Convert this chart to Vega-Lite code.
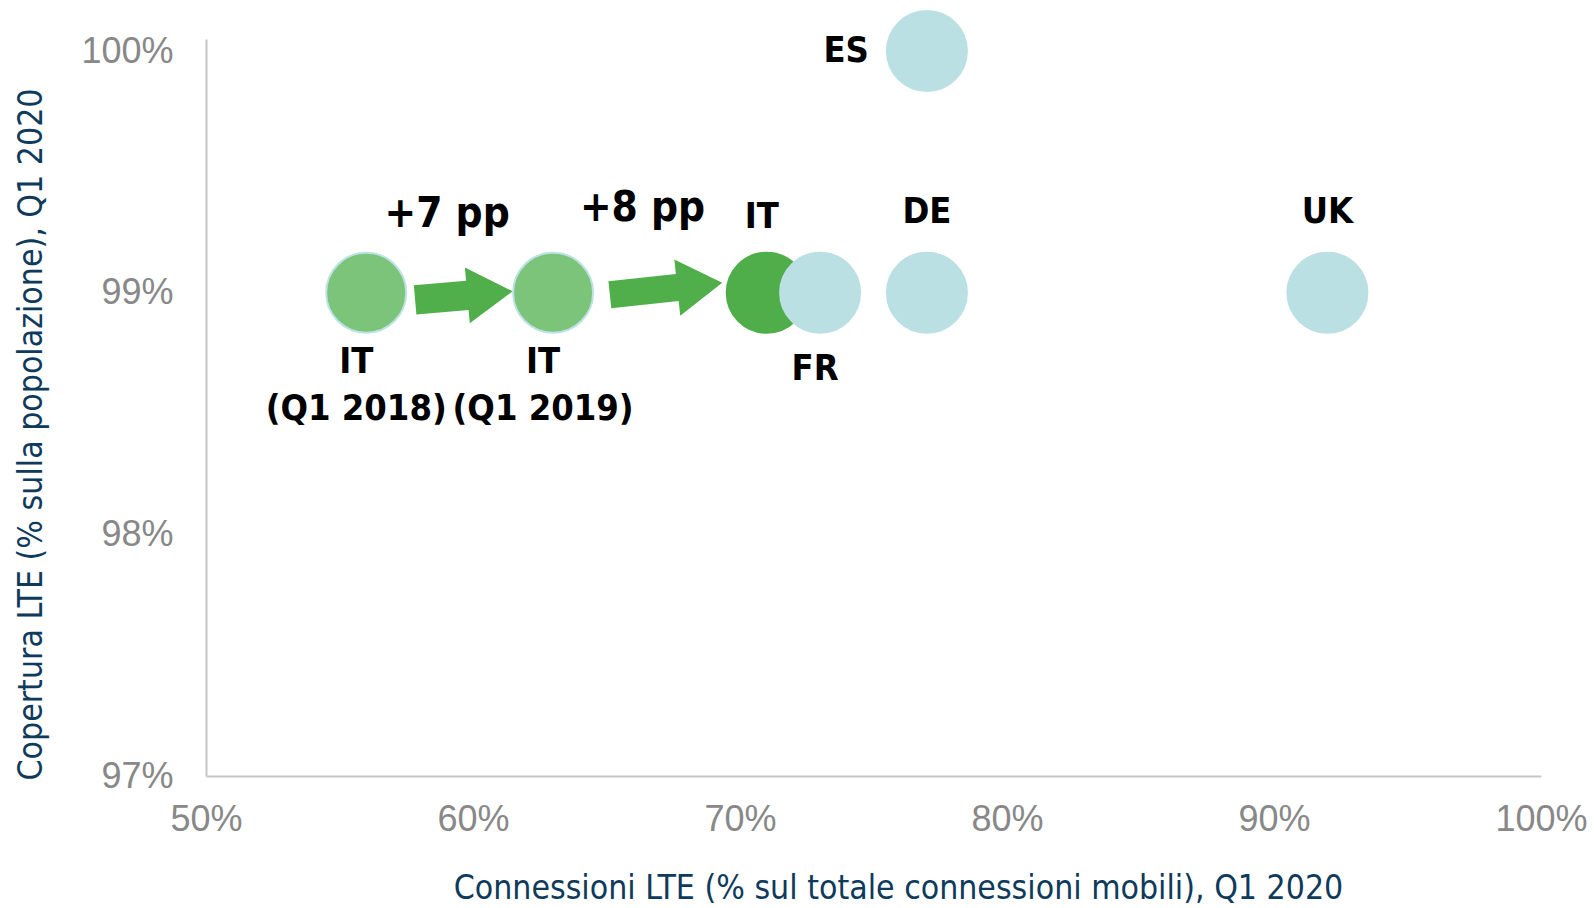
{
  "$schema": "https://vega.github.io/schema/vega-lite/v6.json",
  "width": 1335,
  "height": 737,
  "autosize": "none",
  "padding": {"left": 206, "top": 39, "right": 53, "bottom": 132},
  "background": "white",
  "config": {"view": {"stroke": null}},
  "datasets": {
    "points": [
      {"name": "IT Q1 2018", "x": 0.56, "y": 0.99, "grp": "old", "pos": "below2", "lab": "IT\n(Q1 2018)"},
      {"name": "IT Q1 2019", "x": 0.63, "y": 0.99, "grp": "old", "pos": "below2", "lab": "IT\n(Q1 2019)"},
      {"name": "IT", "x": 0.71, "y": 0.99, "grp": "it", "pos": "aboveL", "lab": "IT"},
      {"name": "FR", "x": 0.73, "y": 0.99, "grp": "other", "pos": "below", "lab": "FR"},
      {"name": "DE", "x": 0.77, "y": 0.99, "grp": "other", "pos": "above", "lab": "DE"},
      {"name": "ES", "x": 0.77, "y": 1.0, "grp": "other", "pos": "left", "lab": "ES"},
      {"name": "UK", "x": 0.92, "y": 0.99, "grp": "other", "pos": "above", "lab": "UK"}
    ],
    "arrows": [
      {"id": "a1", "x": 0.5966, "y": 0.98988},
      {"id": "a2", "x": 0.6723, "y": 0.990165}
    ],
    "notes": [
      {"t": "+7 pp", "x": 0.5903, "y": 0.99325},
      {"t": "+8 pp", "x": 0.6635, "y": 0.99352}
    ]
  },
  "encoding": {
    "x": {
      "field": "x", "type": "quantitative",
      "scale": {"domain": [0.5, 1.0], "nice": false, "zero": false},
      "axis": {
        "values": [0.5, 0.6, 0.7, 0.8, 0.9, 1.0],
        "format": ".0%",
        "grid": false, "ticks": false, "tickSize": 0,
        "domainColor": "#c6c6c6", "domainWidth": 2,
        "labelFont": "Liberation Sans", "labelFontSize": 36, "labelColor": "#888888",
        "labelBaseline": "middle", "labelPadding": 43, "labelFlush": false,
        "title": "Connessioni LTE (% sul totale connessioni mobili), Q1 2020",
        "titleFont": "DejaVu Sans Condensed", "titleFontSize": 33.5, "titleFontWeight": "normal",
        "titleColor": "#0e3a5c", "titleX": 692, "titleY": 112, "titleBaseline": "middle", "titleAlign": "center"
      }
    },
    "y": {
      "field": "y", "type": "quantitative",
      "scale": {"domain": [0.97, 1.0005], "nice": false, "zero": false},
      "axis": {
        "values": [0.97, 0.98, 0.99, 1.0],
        "format": ".0%",
        "grid": false, "ticks": false, "tickSize": 0,
        "domainColor": "#c6c6c6", "domainWidth": 2,
        "labelFont": "Liberation Sans", "labelFontSize": 36, "labelColor": "#888888",
        "labelPadding": 33, "labelFlush": false, "labelBaseline": "middle",
        "title": "Copertura LTE (% sulla popolazione), Q1 2020",
        "titleFont": "DejaVu Sans Condensed", "titleFontSize": 33.5, "titleFontWeight": "normal",
        "titleColor": "#0e3a5c", "titleX": -175, "titleY": 395, "titleBaseline": "middle", "titleAlign": "center", "titleAngle": -90
      }
    }
  },
  "layer": [
    {
      "data": {"name": "arrows"},
      "transform": [{"filter": "datum.id == 'a1'"}],
      "mark": {"type": "point", "shape": "M-1,-0.3L0.07,-0.3L0.07,-0.57L1,0L0.07,0.57L0.07,0.3L-1,0.3Z", "size": 9604, "angle": -5, "filled": true, "color": "#50ae4b", "opacity": 1, "strokeWidth": 0}
    },
    {
      "data": {"name": "arrows"},
      "transform": [{"filter": "datum.id == 'a2'"}],
      "mark": {"type": "point", "shape": "M-1,-0.24L0.2,-0.24L0.2,-0.5L1,0L0.2,0.5L0.2,0.24L-1,0.24Z", "size": 12769, "angle": -6, "filled": true, "color": "#50ae4b", "opacity": 1, "strokeWidth": 0}
    },
    {
      "data": {"name": "points"},
      "mark": {"type": "point", "shape": "circle", "filled": true, "size": 6400, "opacity": 1, "strokeWidth": 2},
      "encoding": {
        "color": {"field": "grp", "type": "nominal", "scale": {"domain": ["old", "it", "other"], "range": ["#7cc47a", "#4fae4a", "#bbe0e3"]}, "legend": null},
        "stroke": {"field": "grp", "type": "nominal", "scale": {"domain": ["old", "it", "other"], "range": ["#bde2e5", "#4fae4a", "#bbe0e3"]}, "legend": null}
      }
    },
    {
      "data": {"name": "points"},
      "transform": [{"filter": "datum.pos == 'above'"}],
      "mark": {"type": "text", "font": "DejaVu Sans Condensed", "fontWeight": "bold", "fontSize": 36, "color": "#000000", "baseline": "middle", "align": "center", "dy": -81},
      "encoding": {"text": {"field": "lab"}}
    },
    {
      "data": {"name": "points"},
      "transform": [{"filter": "datum.pos == 'aboveL'"}],
      "mark": {"type": "text", "font": "DejaVu Sans Condensed", "fontWeight": "bold", "fontSize": 36, "color": "#000000", "baseline": "middle", "align": "center", "dy": -76, "dx": -5},
      "encoding": {"text": {"field": "lab"}}
    },
    {
      "data": {"name": "points"},
      "transform": [{"filter": "datum.pos == 'below'"}],
      "mark": {"type": "text", "font": "DejaVu Sans Condensed", "fontWeight": "bold", "fontSize": 36, "color": "#000000", "baseline": "middle", "align": "center", "dy": 76, "dx": -5},
      "encoding": {"text": {"field": "lab"}}
    },
    {
      "data": {"name": "points"},
      "transform": [{"filter": "datum.pos == 'left'"}],
      "mark": {"type": "text", "font": "DejaVu Sans Condensed", "fontWeight": "bold", "fontSize": 36, "color": "#000000", "baseline": "middle", "align": "right", "dx": -58},
      "encoding": {"text": {"field": "lab"}}
    },
    {
      "data": {"name": "points"},
      "transform": [{"filter": "datum.pos == 'below2'"}],
      "mark": {"type": "text", "font": "DejaVu Sans Condensed", "fontWeight": "bold", "fontSize": 36, "color": "#000000", "baseline": "middle", "align": "center", "dy": 69, "dx": -10, "lineBreak": "\n", "lineHeight": 47},
      "encoding": {"text": {"field": "lab"}}
    },
    {
      "data": {"name": "notes"},
      "mark": {"type": "text", "font": "DejaVu Sans Condensed", "fontWeight": "bold", "fontSize": 42, "color": "#000000", "baseline": "middle", "align": "center"},
      "encoding": {"text": {"field": "t"}}
    }
  ]
}
